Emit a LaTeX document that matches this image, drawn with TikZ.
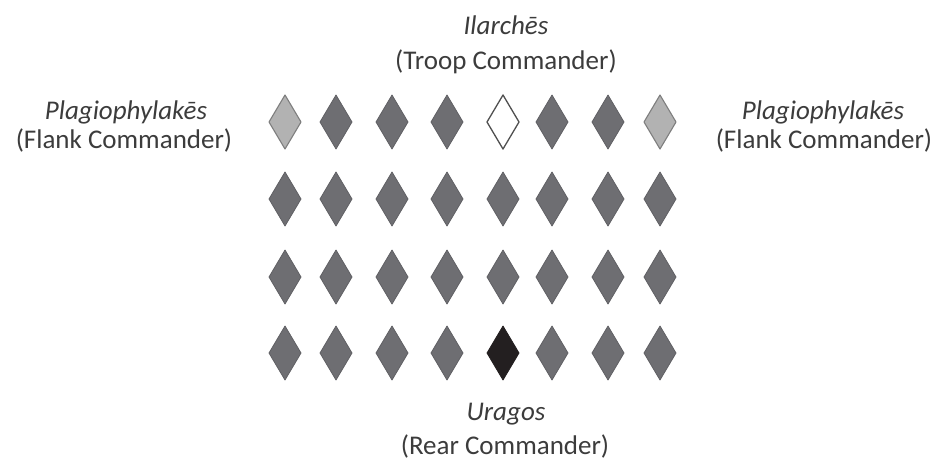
\documentclass[tikz,border=0pt]{standalone}
\usepackage{fontspec}
\setmainfont{Carlito}
\definecolor{dgray}{HTML}{6E6E72}
\definecolor{dline}{HTML}{606064}
\definecolor{lgray}{HTML}{B2B2B2}
\definecolor{mgray}{HTML}{7E7E7E}
\definecolor{outl}{HTML}{505050}
\definecolor{blk}{HTML}{231F20}
\definecolor{txt}{HTML}{3C3C3C}
\tikzset{
  regular/.style={fill=dgray, draw=dline, line width=0.8pt, line join=round},
  flank/.style={fill=lgray, draw=mgray, line width=1.1pt, line join=round},
  chief/.style={fill=white, draw=outl, line width=1.3pt, line join=round},
  rear/.style={fill=blk, draw=blk, line width=0.8pt, line join=round},
  lbl/.style={font=\fontsize{27}{34}\selectfont, text=txt, inner sep=0pt, anchor=base}
}
\newcommand\soldier[3]{\draw[#3] (#1,#2) ++(0,-27) -- ++(16,27) -- ++(-16,27) -- ++(-16,-27) -- cycle;}
\begin{document}
\begin{tikzpicture}[x=1pt,y=-1pt]
\path[use as bounding box] (0,0) rectangle (942,461);
% grid of soldiers
\foreach \r [count=\ri] in {122,199,277,353}{
  \foreach \c [count=\ci] in {285,336,392,447,503,552,608,660}{
    \ifnum\ri=1
      \ifnum\ci=1 \soldier{\c}{\r}{flank}
      \else\ifnum\ci=8 \soldier{\c}{\r}{flank}
      \else\ifnum\ci=5 \soldier{\c}{\r}{chief}
      \else \soldier{\c}{\r}{regular}
      \fi\fi\fi
    \else\ifnum\ri=4
      \ifnum\ci=5 \soldier{\c}{\r}{rear}
      \else \soldier{\c}{\r}{regular}
      \fi
    \else \soldier{\c}{\r}{regular}
    \fi\fi
  }
}
% labels
\node[lbl] (ilarches) at (506,34) {\itshape Ilarchēs};
\node[lbl] (troop) at (506,69) {(Troop Commander)};
\node[lbl] (plagL) at (126,119) {\itshape Plagiophylakēs};
\node[lbl] (flankL) at (124,148) {(Flank Commander)};
\node[lbl] (plagR) at (823,119) {\itshape Plagiophylakēs};
\node[lbl] (flankR) at (824,148) {(Flank Commander)};
\node[lbl] (uragos) at (506,420) {\itshape Uragos};
\node[lbl] (rearc) at (505,454) {(Rear Commander)};
\end{tikzpicture}
\end{document}
